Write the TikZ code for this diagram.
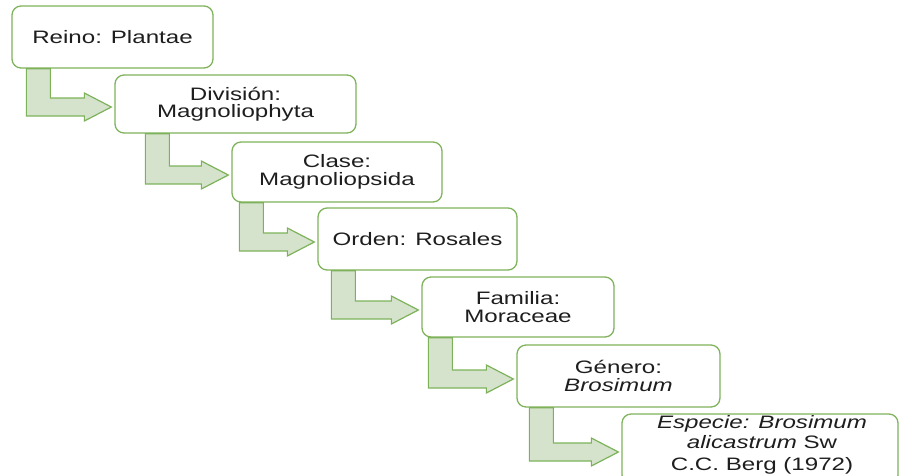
\documentclass[tikz,border=0pt]{standalone}
\usepackage{fontspec}
\setmainfont{Liberation Sans}[FakeStretch=1.34]
\usetikzlibrary{calc}
\definecolor{boxline}{HTML}{7FB35C}
\definecolor{arrfill}{HTML}{D5E3CD}
\definecolor{arrline}{HTML}{7DB25A}
\definecolor{txt}{HTML}{1E1E1E}
\tikzset{
  taxbox/.style={draw=boxline, line width=1.3pt, rounded corners=9pt, fill=white,
    align=center, text=txt, inner sep=0pt,
    font=\fontsize{18}{17.5}\selectfont},
  bentarrow/.style={draw=arrline, fill=arrfill, line width=1.2pt, line join=miter},
  lbl/.style={text=txt, inner sep=0pt, anchor=base, font=\fontsize{18}{20}\selectfont}
}
\newcommand\bentarr[3]{%
  \path let \p1=(#1.south west), \p2=(#2.west) in
    [bentarrow] (\x1+#3pt, \y1) -- (\x1+#3pt+24pt, \y1) -- (\x1+#3pt+24pt, \y2+6pt)
    -- (\x2-30pt, \y2+6pt) -- (\x2-30pt, \y2+11pt) -- (\x2-3pt, \y2-3pt)
    -- (\x2-30pt, \y2-17pt) -- (\x2-30pt, \y2-12pt) -- (\x1+#3pt, \y2-12pt) -- cycle;}
\begin{document}
\begin{tikzpicture}[x=1pt, y=-1pt]
\useasboundingbox (0,0) rectangle (899,475);
\begin{scope}
\clip (0,0) rectangle (899,475);
\node[taxbox, minimum width=201pt, minimum height=62pt] (b1) at (112.5,37) {Reino: Plantae};
\node[taxbox, minimum width=241pt, minimum height=58pt] (b2) at (235.5,104) {División:\\Magnoliophyta};
\node[taxbox, minimum width=210pt, minimum height=60pt] (b3) at (337,172) {Clase:\\Magnoliopsida};
\node[taxbox, minimum width=199pt, minimum height=62pt] (b4) at (417.5,239) {Orden: Rosales};
\node[taxbox, minimum width=192pt, minimum height=60pt] (b5) at (518,307) {Familia:\\Moraceae};
\node[taxbox, minimum width=203pt, minimum height=62pt] (b6) at (618.5,376) {Género:\\\textit{Brosimum}};
\node[taxbox, minimum width=276pt, minimum height=70pt] (b7) at (760,449) {};
\node[lbl] (t7a) at (762,428) {\textit{Especie: Brosimum}};
\node[lbl] (t7b) at (762,448) {\textit{alicastrum} Sw};
\node[lbl] (t7c) at (762,470) {C.C. Berg (1972)};
\bentarr{b1}{b2}{15}
\bentarr{b2}{b3}{31}
\bentarr{b3}{b4}{8}
\bentarr{b4}{b5}{14}
\bentarr{b5}{b6}{7}
\bentarr{b6}{b7}{13}
\end{scope}
\end{tikzpicture}
\end{document}
